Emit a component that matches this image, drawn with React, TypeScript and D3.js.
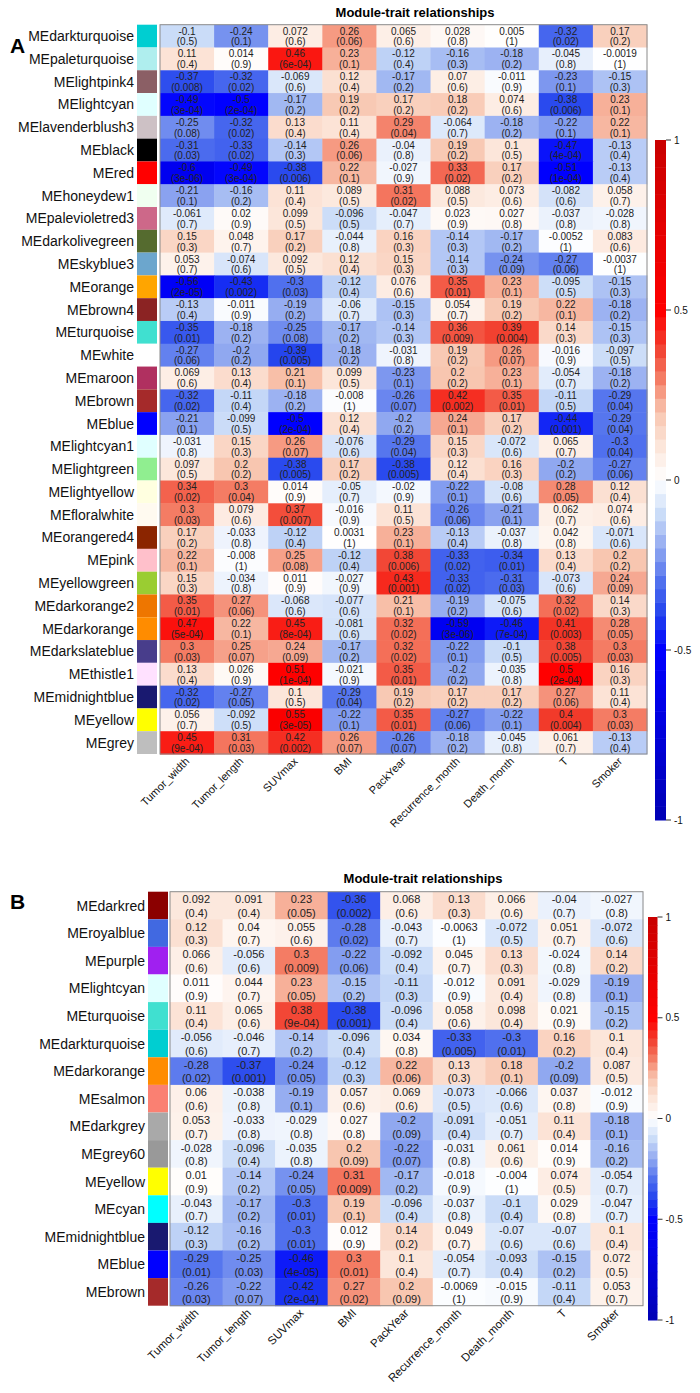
import React from "react";
import * as d3 from "d3";

const traits = ["Tumor_width", "Tumor_length", "SUVmax", "BMI", "PackYear", "Recurrence_month", "Death_month", "T", "Smoker"];
const legendTicks = [1, 0.5, 0, -0.5, -1];

const modulesA = ["MEdarkturquoise", "MEpaleturquoise", "MElightpink4", "MElightcyan", "MElavenderblush3", "MEblack", "MEred", "MEhoneydew1", "MEpalevioletred3", "MEdarkolivegreen", "MEskyblue3", "MEorange", "MEbrown4", "MEturquoise", "MEwhite", "MEmaroon", "MEbrown", "MEblue", "MElightcyan1", "MElightgreen", "MElightyellow", "MEfloralwhite", "MEorangered4", "MEpink", "MEyellowgreen", "MEdarkorange2", "MEdarkorange", "MEdarkslateblue", "MEthistle1", "MEmidnightblue", "MEyellow", "MEgrey"];

const corrA: number[][] = [
  [-0.1, -0.24, 0.072, 0.26, 0.065, 0.028, 0.005, -0.32, 0.17],
  [0.11, 0.014, 0.46, 0.23, -0.12, -0.16, -0.18, -0.045, -0.0019],
  [-0.37, -0.32, -0.069, 0.12, -0.17, 0.07, -0.011, -0.23, -0.15],
  [-0.49, -0.5, -0.17, 0.19, 0.17, 0.18, 0.074, -0.38, 0.23],
  [-0.25, -0.32, 0.13, 0.11, 0.29, -0.064, -0.18, -0.22, 0.22],
  [-0.31, -0.33, -0.14, 0.26, -0.04, 0.19, 0.1, -0.47, -0.13],
  [-0.6, -0.49, -0.38, 0.22, -0.027, 0.33, 0.17, -0.51, -0.13],
  [-0.21, -0.16, 0.11, 0.089, 0.31, 0.088, 0.073, -0.082, 0.058],
  [-0.061, 0.02, 0.099, -0.096, -0.047, 0.023, 0.027, -0.037, -0.028],
  [0.15, 0.048, 0.17, -0.044, 0.16, -0.14, -0.17, -0.0052, 0.083],
  [0.053, -0.074, 0.092, 0.12, 0.15, -0.14, -0.24, -0.27, -0.0037],
  [-0.56, -0.43, -0.3, -0.12, 0.076, 0.35, 0.23, -0.095, -0.15],
  [-0.13, -0.011, -0.19, -0.06, -0.15, 0.054, 0.19, 0.22, -0.18],
  [-0.35, -0.18, -0.25, -0.17, -0.14, 0.36, 0.39, 0.14, -0.15],
  [-0.27, -0.2, -0.39, -0.18, -0.031, 0.19, 0.26, -0.016, -0.097],
  [0.069, 0.13, 0.21, 0.099, -0.23, 0.2, 0.23, -0.054, -0.18],
  [-0.32, -0.11, -0.18, -0.008, -0.26, 0.42, 0.35, -0.11, -0.29],
  [-0.21, -0.099, -0.5, 0.12, -0.2, 0.24, 0.17, -0.44, -0.29],
  [-0.031, 0.15, 0.26, -0.076, -0.29, 0.15, -0.072, 0.065, -0.3],
  [0.097, 0.2, -0.38, 0.17, -0.38, 0.12, 0.16, -0.2, -0.27],
  [0.34, 0.3, 0.014, -0.05, -0.02, -0.22, -0.08, 0.28, 0.12],
  [0.3, 0.079, 0.37, -0.016, 0.11, -0.26, -0.21, 0.062, 0.074],
  [0.17, -0.033, -0.12, 0.0031, 0.23, -0.13, -0.037, 0.042, -0.071],
  [0.22, -0.008, 0.25, -0.12, 0.38, -0.33, -0.34, 0.13, 0.2],
  [0.15, -0.034, 0.011, -0.027, 0.43, -0.33, -0.31, -0.073, 0.24],
  [0.35, 0.27, -0.068, -0.077, 0.21, -0.19, -0.075, 0.32, 0.14],
  [0.47, 0.22, 0.45, -0.081, 0.32, -0.59, -0.46, 0.41, 0.28],
  [0.3, 0.25, 0.24, -0.17, 0.32, -0.22, -0.1, 0.38, 0.3],
  [0.13, 0.026, 0.51, -0.021, 0.35, -0.2, -0.035, 0.5, 0.16],
  [-0.32, -0.27, 0.1, -0.29, 0.19, 0.17, 0.17, 0.27, 0.11],
  [0.056, -0.092, 0.55, -0.22, 0.35, -0.27, -0.22, 0.4, 0.3],
  [0.45, 0.31, 0.42, 0.26, -0.26, -0.18, -0.045, 0.061, -0.13],
];

const pA: string[][] = [
  ["0.5", "0.1", "0.6", "0.06", "0.6", "0.8", "1", "0.02", "0.2"],
  ["0.4", "0.9", "6e-04", "0.1", "0.4", "0.3", "0.2", "0.8", "1"],
  ["0.008", "0.02", "0.6", "0.4", "0.2", "0.6", "0.9", "0.1", "0.3"],
  ["3e-04", "2e-04", "0.2", "0.2", "0.2", "0.2", "0.6", "0.006", "0.1"],
  ["0.08", "0.02", "0.4", "0.4", "0.04", "0.7", "0.2", "0.1", "0.1"],
  ["0.03", "0.02", "0.3", "0.06", "0.8", "0.2", "0.5", "4e-04", "0.4"],
  ["3e-06", "3e-04", "0.006", "0.1", "0.9", "0.02", "0.2", "1e-04", "0.4"],
  ["0.1", "0.2", "0.4", "0.5", "0.02", "0.5", "0.6", "0.6", "0.7"],
  ["0.7", "0.9", "0.5", "0.5", "0.7", "0.9", "0.8", "0.8", "0.8"],
  ["0.3", "0.7", "0.2", "0.8", "0.3", "0.3", "0.2", "1", "0.6"],
  ["0.7", "0.6", "0.5", "0.4", "0.3", "0.3", "0.09", "0.06", "1"],
  ["2e-05", "0.002", "0.03", "0.4", "0.6", "0.01", "0.1", "0.5", "0.3"],
  ["0.4", "0.9", "0.2", "0.7", "0.3", "0.7", "0.2", "0.1", "0.2"],
  ["0.01", "0.2", "0.08", "0.2", "0.3", "0.009", "0.004", "0.3", "0.3"],
  ["0.06", "0.2", "0.005", "0.2", "0.8", "0.2", "0.07", "0.9", "0.5"],
  ["0.6", "0.4", "0.1", "0.5", "0.1", "0.2", "0.1", "0.7", "0.2"],
  ["0.02", "0.4", "0.2", "1", "0.07", "0.002", "0.01", "0.5", "0.04"],
  ["0.1", "0.5", "2e-04", "0.4", "0.2", "0.1", "0.2", "0.001", "0.04"],
  ["0.8", "0.3", "0.07", "0.6", "0.04", "0.3", "0.6", "0.7", "0.04"],
  ["0.5", "0.2", "0.005", "0.2", "0.005", "0.4", "0.3", "0.2", "0.06"],
  ["0.02", "0.04", "0.9", "0.7", "0.9", "0.1", "0.6", "0.05", "0.4"],
  ["0.03", "0.6", "0.007", "0.9", "0.5", "0.06", "0.1", "0.7", "0.6"],
  ["0.2", "0.8", "0.4", "1", "0.1", "0.4", "0.8", "0.8", "0.6"],
  ["0.1", "1", "0.08", "0.4", "0.006", "0.02", "0.01", "0.4", "0.2"],
  ["0.3", "0.8", "0.9", "0.9", "0.001", "0.02", "0.03", "0.6", "0.09"],
  ["0.01", "0.06", "0.6", "0.6", "0.1", "0.2", "0.6", "0.02", "0.3"],
  ["5e-04", "0.1", "8e-04", "0.6", "0.02", "3e-06", "7e-04", "0.003", "0.05"],
  ["0.03", "0.07", "0.09", "0.2", "0.02", "0.1", "0.5", "0.005", "0.03"],
  ["0.4", "0.9", "1e-04", "0.9", "0.01", "0.2", "0.8", "2e-04", "0.3"],
  ["0.02", "0.05", "0.5", "0.04", "0.2", "0.2", "0.2", "0.06", "0.4"],
  ["0.7", "0.5", "3e-05", "0.1", "0.01", "0.06", "0.1", "0.004", "0.03"],
  ["9e-04", "0.03", "0.002", "0.07", "0.07", "0.2", "0.8", "0.7", "0.4"],
];

const modulesB = ["MEdarkred", "MEroyalblue", "MEpurple", "MElightcyan", "MEturquoise", "MEdarkturquoise", "MEdarkorange", "MEsalmon", "MEdarkgrey", "MEgrey60", "MEyellow", "MEcyan", "MEmidnightblue", "MEblue", "MEbrown"];

const corrB: number[][] = [
  [0.092, 0.091, 0.23, -0.36, 0.068, 0.13, 0.066, -0.04, -0.027],
  [0.12, 0.04, 0.055, -0.28, -0.043, -0.0063, -0.072, 0.051, -0.072],
  [0.066, -0.056, 0.3, -0.22, -0.092, 0.045, 0.13, -0.024, 0.14],
  [0.011, 0.044, 0.23, -0.15, -0.11, -0.012, 0.091, -0.029, -0.19],
  [0.11, 0.065, 0.38, -0.38, -0.096, 0.058, 0.098, 0.021, -0.15],
  [-0.056, -0.046, -0.14, -0.096, 0.034, -0.33, -0.3, 0.16, 0.1],
  [-0.28, -0.37, -0.24, -0.12, 0.22, 0.13, 0.18, -0.2, 0.087],
  [0.06, -0.038, -0.19, 0.057, 0.069, -0.073, -0.066, 0.037, -0.012],
  [0.053, -0.033, -0.029, 0.027, -0.2, -0.091, -0.051, 0.11, -0.18],
  [-0.028, -0.096, -0.035, 0.2, -0.22, -0.031, 0.061, 0.014, -0.16],
  [0.01, -0.14, -0.24, 0.31, -0.17, -0.018, -0.004, 0.074, -0.054],
  [-0.043, -0.17, -0.3, 0.19, -0.096, -0.037, -0.1, 0.029, -0.047],
  [-0.12, -0.16, -0.3, 0.012, 0.14, 0.049, -0.07, -0.07, 0.1],
  [-0.29, -0.25, -0.46, 0.3, 0.1, -0.054, -0.093, -0.15, 0.072],
  [-0.26, -0.22, -0.42, 0.27, 0.2, -0.0069, -0.015, -0.11, 0.053],
];

const pB: string[][] = [
  ["0.4", "0.4", "0.05", "0.002", "0.6", "0.3", "0.6", "0.7", "0.8"],
  ["0.3", "0.7", "0.6", "0.02", "0.7", "1", "0.5", "0.7", "0.6"],
  ["0.6", "0.6", "0.009", "0.06", "0.4", "0.7", "0.3", "0.8", "0.2"],
  ["0.9", "0.7", "0.05", "0.2", "0.3", "0.9", "0.4", "0.8", "0.1"],
  ["0.4", "0.6", "9e-04", "0.001", "0.4", "0.6", "0.4", "0.9", "0.2"],
  ["0.6", "0.7", "0.2", "0.4", "0.8", "0.005", "0.01", "0.2", "0.4"],
  ["0.02", "0.001", "0.05", "0.3", "0.06", "0.3", "0.1", "0.09", "0.5"],
  ["0.6", "0.8", "0.1", "0.6", "0.6", "0.5", "0.6", "0.8", "0.9"],
  ["0.7", "0.8", "0.8", "0.8", "0.09", "0.4", "0.7", "0.4", "0.1"],
  ["0.8", "0.4", "0.8", "0.09", "0.07", "0.8", "0.6", "0.9", "0.2"],
  ["0.9", "0.2", "0.05", "0.009", "0.2", "0.9", "1", "0.5", "0.7"],
  ["0.7", "0.2", "0.01", "0.1", "0.4", "0.8", "0.4", "0.8", "0.7"],
  ["0.3", "0.2", "0.01", "0.9", "0.2", "0.7", "0.6", "0.6", "0.4"],
  ["0.01", "0.03", "4e-05", "0.01", "0.4", "0.7", "0.4", "0.2", "0.5"],
  ["0.03", "0.07", "2e-04", "0.02", "0.09", "1", "0.9", "0.4", "0.7"],
];

// R colour names used for the module swatches
const rColors: Record<string, string> = {
  darkturquoise: "#00CED1", paleturquoise: "#AFEEEE", lightpink4: "#8B5F65", lightcyan: "#E0FFFF",
  lavenderblush3: "#CDC1C5", black: "#000000", red: "#FF0000", honeydew1: "#F0FFF0",
  palevioletred3: "#CD6889", darkolivegreen: "#556B2F", skyblue3: "#6CA6CD", orange: "#FFA500",
  brown4: "#8B2323", turquoise: "#40E0D0", white: "#FFFFFF", maroon: "#B03060", brown: "#A52A2A",
  blue: "#0000FF", lightcyan1: "#E0FFFF", lightgreen: "#90EE90", lightyellow: "#FFFFE0",
  floralwhite: "#FFFAF0", orangered4: "#8B2500", pink: "#FFC0CB", yellowgreen: "#9ACD32",
  darkorange2: "#EE7600", darkorange: "#FF8C00", darkslateblue: "#483D8B", thistle1: "#FFE1FF",
  midnightblue: "#191970", yellow: "#FFFF00", grey: "#BEBEBE", darkred: "#8B0000", royalblue: "#4169E1",
  purple: "#A020F0", salmon: "#FA8072", darkgrey: "#A9A9A9", grey60: "#999999", cyan: "#00FFFF",
};

const heat = d3
  .scaleLinear<string>()
  .domain([-1, -0.5, -0.4, -0.3, -0.2, -0.1, 0, 0.1, 0.2, 0.3, 0.4, 0.5, 1])
  .range(["#0000B4", "#0000FF", "#2040EE", "#5070EE", "#90A8F0", "#CADCF8", "#FFFFFF", "#FCE6DA", "#F8C6B0", "#F47C64", "#F23A2A", "#FF0000", "#C80000"])
  .interpolate(d3.interpolateRgb)
  .clamp(true);

const FONT = "'Liberation Sans', Arial, Helvetica, sans-serif";

type PanelProps = {
  letter: string;
  letterY: number;
  modules: string[];
  corr: number[][];
  pv: string[][];
  x0: number; x1: number; y0: number; y1: number;
  titleX: number; titleY: number;
  cellFont: number; lineOff: [number, number];
  rowFont: number; colFont: number;
  swatchX: number; swatchW: number;
  barX: number; barW: number; barY0: number; barY1: number;
};

function Panel(p: PanelProps) {
  const xs = d3.scaleBand<string>().domain(traits).range([p.x0, p.x1]);
  const ys = d3.scaleBand<string>().domain(p.modules).range([p.y0, p.y1]);
  const bar = d3.scaleLinear().domain([1, -1]).range([p.barY0, p.barY1]);
  const nSteps = 50;
  const steps = d3.range(nSteps).map((i) => -1 + (i * 2) / nSteps);
  return (
    <g>
      <text x={10} y={p.letterY} fontFamily={FONT} fontWeight="bold" fontSize={21}>{p.letter}</text>
      <text x={p.titleX} y={p.titleY} textAnchor="middle" fontFamily={FONT} fontWeight="bold" fontSize={13}>Module-trait relationships</text>
      {p.modules.map((m, i) => (
        <g key={m}>
          <rect x={p.swatchX} y={ys(m)!} width={p.swatchW} height={ys.bandwidth()} fill={rColors[m.slice(2)] || "#ccc"} />
          <text x={p.swatchX - 3} y={ys(m)! + ys.bandwidth() / 2} textAnchor="end" dominantBaseline="central" fontFamily={FONT} fontSize={p.rowFont} fill="#111">{m}</text>
          {traits.map((t, j) => {
            const v = p.corr[i][j];
            const cx = xs(t)! + xs.bandwidth() / 2;
            const cy = ys(m)! + ys.bandwidth() / 2;
            return (
              <g key={t}>
                <rect x={xs(t)!} y={ys(m)!} width={xs.bandwidth() + 0.5} height={ys.bandwidth() + 0.5} fill={heat(v)} />
                <text x={cx} y={cy + p.lineOff[0]} textAnchor="middle" dominantBaseline="central" fontFamily={FONT} fontSize={p.cellFont} fill="#222">{String(v)}</text>
                <text x={cx} y={cy + p.lineOff[1]} textAnchor="middle" dominantBaseline="central" fontFamily={FONT} fontSize={p.cellFont} fill="#222">{"(" + p.pv[i][j] + ")"}</text>
              </g>
            );
          })}
        </g>
      ))}
      <rect x={p.x0} y={p.y0} width={p.x1 - p.x0} height={p.y1 - p.y0} fill="none" stroke="#8a8a8a" strokeWidth={1} />
      {traits.map((t) => (
        <text key={t} transform={`translate(${xs(t)! + xs.bandwidth() / 2 + 3},${p.y1 + 8}) rotate(-45)`} textAnchor="end" fontFamily={FONT} fontSize={p.colFont} fill="#111">{t}</text>
      ))}
      {steps.map((s) => (
        <rect key={s} x={p.barX} y={bar(s + 2 / nSteps)} width={p.barW} height={bar(s) - bar(s + 2 / nSteps) + 0.5} fill={heat(s + 1 / nSteps)} />
      ))}
      {legendTicks.map((t) => (
        <g key={t}>
          <line x1={p.barX + p.barW} x2={p.barX + p.barW + 5} y1={bar(t)} y2={bar(t)} stroke="#333" />
          <text x={p.barX + p.barW + 8} y={bar(t)} dominantBaseline="central" fontFamily={FONT} fontSize={10} fill="#111">{String(t)}</text>
        </g>
      ))}
    </g>
  );
}

export default function App() {
  return (
    <svg width={700} height={1393} style={{ position: "absolute", left: 0, top: 0, background: "#fff" }}>
      <rect width={700} height={1393} fill="#fff" />
      <Panel
        letter="A" letterY={53}
        modules={modulesA} corr={corrA} pv={pA}
        x0={160} x1={647} y0={24.7} y1={754}
        titleX={415} titleY={17}
        cellFont={10} lineOff={[-5, 5.8]}
        rowFont={14} colFont={11}
        swatchX={137} swatchW={20}
        barX={655} barW={11} barY0={140} barY1={820}
      />
      <Panel
        letter="B" letterY={909}
        modules={modulesB} corr={corrB} pv={pB}
        x0={170} x1={643} y0={891.7} y1={1305.7}
        titleX={423} titleY={883}
        cellFont={11} lineOff={[-6.3, 7.2]}
        rowFont={14} colFont={11.5}
        swatchX={148} swatchW={20}
        barX={648} barW={9.5} barY0={917} barY1={1320}
      />
    </svg>
  );
}
